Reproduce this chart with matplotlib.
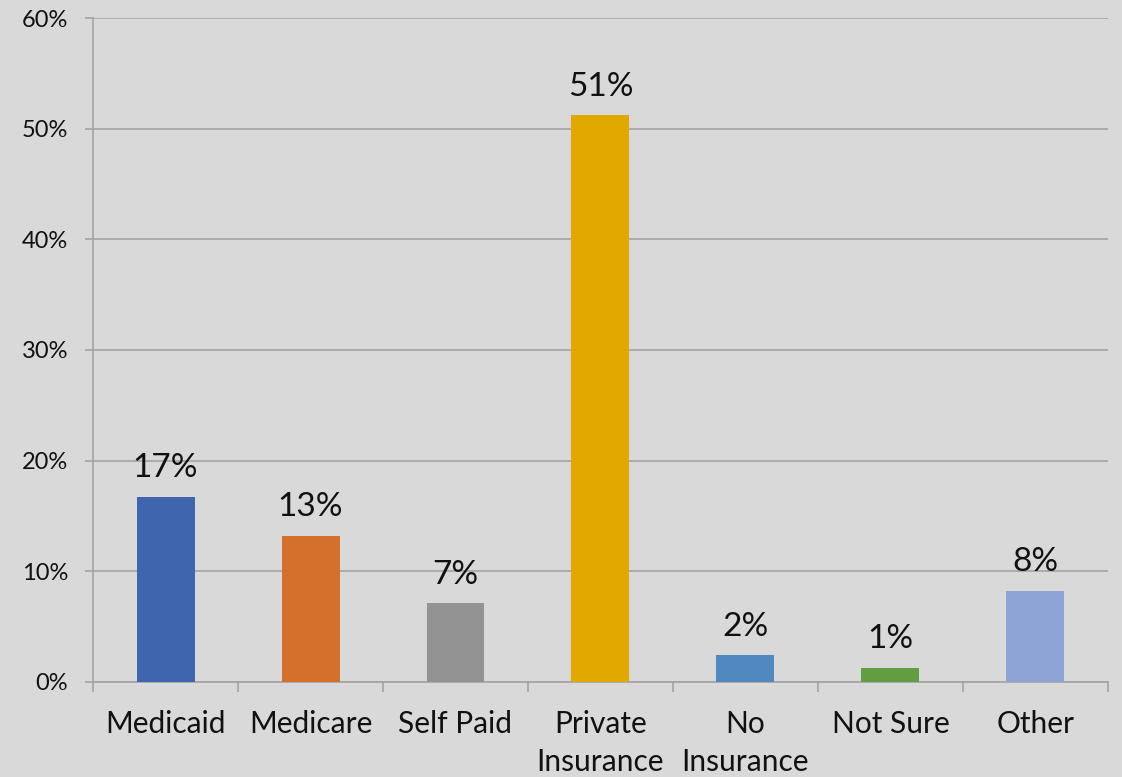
import matplotlib.pyplot as plt
from matplotlib.ticker import FuncFormatter, FixedLocator

# coverage type shares (fraction of respondents)
categories = ["Medicaid", "Medicare", "Self Paid", "Private\nInsurance",
              "No\nInsurance", "Not Sure", "Other"]
shares = [0.167, 0.132, 0.071, 0.512, 0.024, 0.013, 0.082]
colors = ["#3E65AE", "#D46F2C", "#939393", "#E1A900",
          "#5089BF", "#629D43", "#8FA4D6"]

bg = "#D9D9D9"
grid = "#A3A3A3"

plt.rcParams['font.family'] = ['Lato', 'DejaVu Sans']

fig = plt.figure(figsize=(11.22, 7.77), dpi=100, facecolor=bg)
ax = fig.add_axes([0.0829, 0.1223, 0.9046, 0.8545], facecolor=bg)

x = list(range(len(categories)))
bars = ax.bar(x, shares, width=0.4, color=colors, zorder=3)

for xi, v in zip(x, shares):
    ax.annotate("{:.0f}%".format(v * 100), (xi, v), xytext=(0, 10),
                textcoords="offset points", ha="center", va="bottom",
                fontsize=24, color="#111111")

ax.set_xlim(-0.5, len(categories) - 0.5)
ax.set_ylim(0, 0.6)
ax.set_yticks([i / 10 for i in range(7)])
ax.yaxis.set_major_formatter(FuncFormatter(lambda v, p: "{:.0f}%".format(v * 100)))
ax.grid(axis="y", color=grid, linewidth=1.2, zorder=0)

ax.set_xticks(x)
ax.set_xticklabels(categories, fontsize=21.5, linespacing=1.45, color="#111111")
ax.xaxis.set_minor_locator(FixedLocator([i - 0.5 for i in range(len(categories) + 1)]))
ax.tick_params(axis="x", which="major", length=0, pad=20)
ax.tick_params(axis="x", which="minor", length=7, width=1.2, color=grid)
ax.tick_params(axis="y", length=6, width=1.2, color=grid, labelsize=17,
               pad=12, labelcolor="#111111")

for side in ("top", "right"):
    ax.spines[side].set_visible(False)
for side in ("left", "bottom"):
    ax.spines[side].set_color(grid)
    ax.spines[side].set_linewidth(1.2)

fig.savefig("out.png", dpi=100, facecolor=bg)
